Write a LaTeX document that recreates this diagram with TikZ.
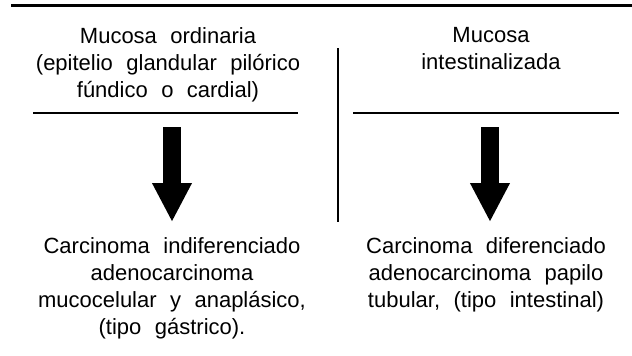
\documentclass[tikz,border=0pt]{standalone}
\usepackage{fontspec}
\setmainfont{Liberation Sans}
\newfontfamily\diagfont{Liberation Sans}[WordSpace=2.2]
\usetikzlibrary{arrows.meta}

\tikzset{
  txt/.style = {align=center, inner sep=0pt, anchor=north,
    font=\diagfont\fontsize{22}{27}\selectfont},
  rule/.style = {line width=2pt},
  bigarrow/.style = {line width=18pt, -{Triangle[width=37pt,length=39pt]}}
}

\begin{document}
\begin{tikzpicture}[x=1pt, y=-1pt]
  \useasboundingbox (0,0) rectangle (632,356);

  \coordinate (topl) at (11,5);
  \coordinate (topr) at (632,5);

  \node[txt] (ordinaria) at (168,27) {Mucosa ordinaria\\(epitelio glandular pilórico\\fúndico o cardial)};
  \node[txt] (intestinalizada) at (491,27) {Mucosa\\intestinalizada};

  \coordinate (rule1l) at (33,113);
  \coordinate (rule1r) at (298,113);
  \coordinate (rule2l) at (353,113);
  \coordinate (rule2r) at (619,113);

  \coordinate (sepT) at (338,48);
  \coordinate (sepB) at (338,222);

  \coordinate (arr1) at (172,127);
  \coordinate (tip1) at (172,222);
  \coordinate (arr2) at (490,127);
  \coordinate (tip2) at (490,222);

  \node[txt] (gastrico) at (172,237) {Carcinoma indiferenciado\\adenocarcinoma\\mucocelular y anaplásico,\\(tipo gástrico).};
  \node[txt] (intestinal) at (486,237) {Carcinoma diferenciado\\adenocarcinoma papilo\\tubular, (tipo intestinal)};

  \draw[line width=3pt] (topl) -- (topr);
  \draw[rule] (rule1l) -- (rule1r);
  \draw[rule] (rule2l) -- (rule2r);
  \draw[rule] (sepT) -- (sepB);
  \draw[bigarrow] (arr1) -- (tip1);
  \draw[bigarrow] (arr2) -- (tip2);
\end{tikzpicture}
\end{document}
